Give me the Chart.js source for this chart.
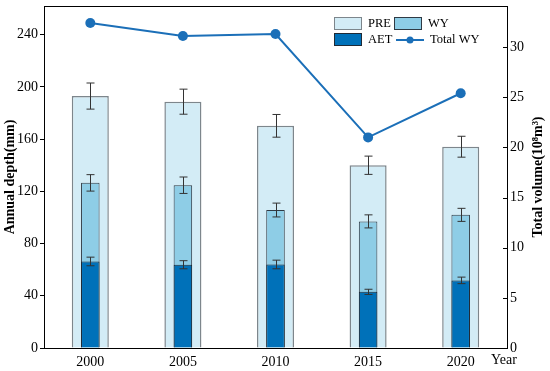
<!DOCTYPE html>
<html lang="en">
<head>
  <meta charset="UTF-8">
  <title>Annual depth and total water yield</title>
  <style>
    html, body { margin: 0; padding: 0; background: #fff; }
    #wrap { width: 550px; height: 371px; }
  </style>
  <script src="https://cdn.jsdelivr.net/npm/chart.js"></script>
</head>
<body>
<div id="wrap"><canvas id="grafico" width="550" height="371"></canvas></div>
<script>
  // datos
  const years = ['2000', '2005', '2010', '2015', '2020'];
  const pre = [193, 188.7, 170.2, 140, 154.2];
  const preErr = [10, 9.6, 8.7, 7, 8];
  const wy = [126.5, 124.7, 105.7, 97, 102];
  const wyErr = [6.3, 6.3, 5.3, 5, 5];
  const aet = [66.3, 63.8, 64, 43, 51.8];
  const aetErr = [3.3, 3.1, 3.3, 2, 2.5];
  const totalWY = [32.4, 31.1, 31.3, 21.0, 25.4];
  const leftTicks = [0, 40, 80, 120, 160, 200, 240];
  const rightTicks = [0, 5, 10, 15, 20, 25, 30];

  const FONT = "'Liberation Serif', 'Times New Roman', serif";
  const LINE_COLOR = '#1b6fb8';

  // barras de error, marco superior, ticks internos del eje derecho, titulo derecho y leyenda
  const extras = {
    id: 'extras',
    afterDatasetsDraw(chart) {
      const c = chart.ctx;
      const y = chart.scales.y;
      c.save();
      c.strokeStyle = '#333';
      c.lineWidth = 1;
      [[0, pre, preErr], [1, wy, wyErr], [2, aet, aetErr]].forEach(([di, vals, errs]) => {
        const meta = chart.getDatasetMeta(di);
        meta.data.forEach((bar, i) => {
          const x = Math.round(bar.x) + 0.5;
          const yt = y.getPixelForValue(vals[i] + errs[i]);
          const yb = y.getPixelForValue(vals[i] - errs[i]);
          c.beginPath();
          c.moveTo(x, yt); c.lineTo(x, yb);
          c.moveTo(x - 4, yt); c.lineTo(x + 4, yt);
          c.moveTo(x - 4, yb); c.lineTo(x + 4, yb);
          c.stroke();
        });
      });
      c.restore();
    },
    afterDraw(chart) {
      const c = chart.ctx;
      const a = chart.chartArea;
      const y1 = chart.scales.y1;
      c.save();
      c.strokeStyle = '#000';
      c.lineWidth = 1;
      c.beginPath();
      c.moveTo(a.left, a.top + 0.5); c.lineTo(a.right, a.top + 0.5);
      c.stroke();
      // ticks hacia adentro
      rightTicks.forEach(v => {
        const py = Math.round(y1.getPixelForValue(v)) + 0.5;
        c.beginPath();
        c.moveTo(a.right - 4, py); c.lineTo(a.right, py);
        c.stroke();
      });
      // titulo eje derecho
      c.fillStyle = '#000';
      c.font = 'bold 14px ' + FONT;
      c.textAlign = 'center';
      c.textBaseline = 'middle';
      c.translate(538, (a.top + a.bottom) / 2);
      c.rotate(-Math.PI / 2);
      c.fillText('Total volume(10\u2078m\u00b3)', 0, 0);
      c.restore();

      // "Year"
      c.save();
      c.fillStyle = '#000';
      c.font = '14px ' + FONT;
      c.textAlign = 'left';
      c.textBaseline = 'middle';
      c.fillText('Year', 491, 360);

      // leyenda
      c.font = '12.5px ' + FONT;
      const items = [
        { label: 'PRE', fill: chart.data.datasets[0].backgroundColor, border: chart.data.datasets[0].borderColor },
        { label: 'WY', fill: chart.data.datasets[1].backgroundColor, border: chart.data.datasets[1].borderColor },
        { label: 'AET', fill: chart.data.datasets[2].backgroundColor, border: chart.data.datasets[2].borderColor },
        { label: 'Total WY', line: true }
      ];
      const pos = [[334, 17], [394, 17], [334, 33], [394, 33]];
      items.forEach((it, i) => {
        const [lx, ly] = pos[i];
        if (it.line) {
          c.strokeStyle = LINE_COLOR;
          c.lineWidth = 2;
          c.beginPath();
          c.moveTo(lx + 2, ly + 7); c.lineTo(lx + 30, ly + 7);
          c.stroke();
          c.fillStyle = LINE_COLOR;
          c.beginPath();
          c.arc(lx + 16, ly + 7, 3.5, 0, Math.PI * 2);
          c.fill();
          c.fillStyle = '#000';
          c.fillText(it.label, lx + 36, ly + 7);
        } else {
          c.fillStyle = it.fill;
          c.fillRect(lx, ly, 28, 13);
          c.strokeStyle = it.border;
          c.lineWidth = 1;
          c.strokeRect(lx + 0.5, ly + 0.5, 27, 12);
          c.fillStyle = '#000';
          c.fillText(it.label, lx + 34, ly + 7);
        }
      });
      c.restore();
    }
  };

  const ctx = document.getElementById('grafico').getContext('2d');
  const chart = new Chart(ctx, {
    data: {
      labels: years,
      datasets: [
        {
          type: 'bar', label: 'PRE', data: pre, yAxisID: 'y', grouped: false, order: 3,
          backgroundColor: '#d3ecf6', borderColor: '#7d868c', borderWidth: 1.5,
          categoryPercentage: 1, barPercentage: 0.4
        },
        {
          type: 'bar', label: 'WY', data: wy, yAxisID: 'y', grouped: false, order: 2,
          backgroundColor: '#8ecde6', borderColor: '#2f3a44', borderWidth: 1,
          categoryPercentage: 1, barPercentage: 0.2
        },
        {
          type: 'bar', label: 'AET', data: aet, yAxisID: 'y', grouped: false, order: 1,
          backgroundColor: '#0071b9', borderColor: '#1f2a36', borderWidth: 1,
          categoryPercentage: 1, barPercentage: 0.2
        },
        {
          type: 'line', label: 'Total WY', data: totalWY, yAxisID: 'y1', order: 0,
          borderColor: LINE_COLOR, backgroundColor: LINE_COLOR, borderWidth: 2,
          pointRadius: 5, pointHoverRadius: 5, pointBorderWidth: 0, tension: 0
        }
      ]
    },
    options: {
      responsive: false,
      animation: false,
      layout: { padding: { top: 6, left: 0, right: 0, bottom: 0 } },
      plugins: {
        legend: { display: false },
        tooltip: { enabled: false }
      },
      scales: {
        x: {
          offset: true,
          grid: { display: false, drawTicks: false },
          border: { color: '#000', width: 1 },
          ticks: { color: '#000', font: { family: FONT, size: 14 }, padding: 6, maxRotation: 0 },
          afterFit(s) { s.height = 23; s.paddingLeft = 0; s.paddingRight = 0; }
        },
        y: {
          position: 'left',
          min: 0, max: 262,
          afterBuildTicks(s) { s.ticks = leftTicks.map(v => ({ value: v })); },
          grid: { drawOnChartArea: false, drawTicks: true, tickLength: 4, color: '#000' },
          border: { color: '#000', width: 1 },
          ticks: { color: '#000', font: { family: FONT, size: 14 }, padding: 2 },
          title: {
            display: true, text: 'Annual depth(mm)', color: '#000',
            font: { family: FONT, size: 14, weight: 'bold' }, padding: { top: 2, bottom: 0 }
          },
          afterFit(s) { s.width = 44; s.paddingTop = 0; s.paddingBottom = 0; }
        },
        y1: {
          position: 'right',
          min: 0, max: 34.1,
          afterBuildTicks(s) { s.ticks = rightTicks.map(v => ({ value: v })); },
          grid: { drawOnChartArea: false, drawTicks: false },
          border: { color: '#000', width: 1 },
          ticks: { color: '#000', font: { family: FONT, size: 14 }, padding: 3 },
          afterFit(s) { s.width = 43; s.paddingTop = 0; s.paddingBottom = 0; }
        }
      }
    },
    plugins: [extras]
  });
</script>
</body>
</html>
